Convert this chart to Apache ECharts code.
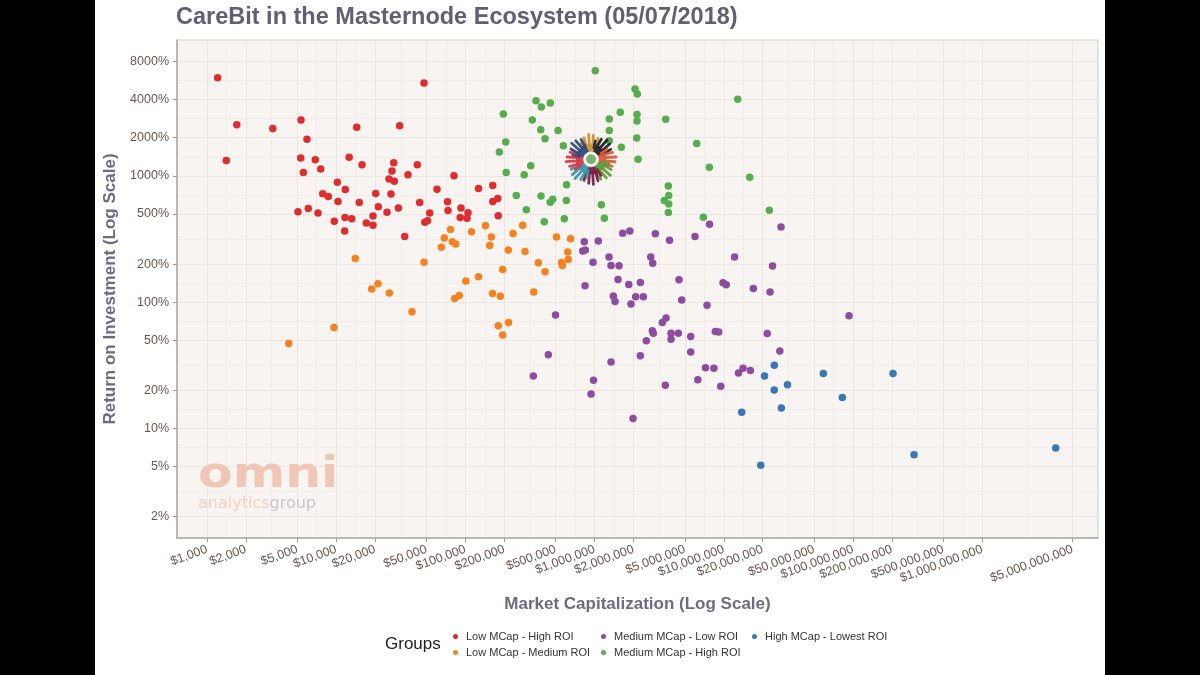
<!DOCTYPE html>
<html>
<head>
<meta charset="UTF-8">
<title>CareBit in the Masternode Ecosystem</title>
<script src="https://cdn.jsdelivr.net/npm/echarts@6/dist/echarts.min.js"></script>
<style>
    body { margin: 0; background: #000; }
    #chart { position: absolute; left: 95px; top: 0; width: 1010px; height: 675px; background: #fff; }
</style>
</head>
<body>
<div id="chart"></div>
<script>
    // [market cap in $, ROI in %]
    var lowMcapHighRoi = [
        [1210, 5980], [1700, 2540], [1410, 1320], [3230, 2370], [5340, 2770], [5940, 1950], [5310, 1380],
        [5570, 1060], [6890, 1340], [7590, 1130], [10200, 889], [11760, 777], [7860, 719], [8690, 684],
        [10330, 627], [5060, 518], [6080, 550], [7230, 508], [9670, 437], [11700, 467], [13180, 456],
        [11630, 366], [14410, 2420], [12600, 1400], [15840, 1220], [20220, 723], [15090, 613], [21180, 568],
        [19270, 481], [17100, 423], [19270, 406], [24730, 515], [26560, 716], [25630, 945], [28160, 906],
        [27040, 1090], [27860, 1270], [31000, 2490], [47820, 5430], [30250, 557], [35950, 1020], [42430, 1220],
        [44290, 613], [52930, 508], [48510, 428], [50910, 441], [60290, 783], [81610, 1000], [72700, 623],
        [73340, 530], [92480, 556], [91160, 468], [104700, 509], [102900, 462], [126300, 794], [162700, 839],
        [163000, 625], [178100, 661], [179400, 483], [33900, 330]
    ];
    var lowMcapMediumRoi = [
        [4290, 47.0], [9620, 62.9], [14050, 221], [18830, 127], [21060, 140], [25760, 118], [38610, 83.8],
        [47820, 207], [82630, 107], [89700, 113], [100700, 147], [126300, 159], [162100, 117], [186300, 111],
        [179700, 64.9], [215600, 68.9], [194400, 54.8], [76680, 375], [111500, 360], [143000, 403],
        [68660, 321], [79150, 300], [84140, 289], [65100, 272], [158700, 327], [154200, 280], [194400, 181],
        [214800, 259], [233500, 349], [277700, 405], [289200, 251], [366700, 205], [413200, 174],
        [337900, 120], [507200, 327], [651000, 317], [619300, 249], [554300, 206], [562300, 195], [625900, 217]
    ];
    var mediumMcapLowRoi = [
        [831000, 301], [1068000, 305], [1650000, 351], [1873000, 366], [2950000, 347], [3800000, 309],
        [5985000, 330], [7750000, 414], [27720000, 393], [809000, 254], [847500, 259], [971900, 207],
        [1293000, 227], [1340000, 195], [1545000, 194], [2718000, 227], [2816000, 203], [12100000, 227],
        [23830000, 193], [842900, 135], [1518000, 151], [1837000, 138], [2259000, 143], [4501000, 150],
        [1396000, 112], [1439000, 101], [2080000, 110], [2382000, 110], [1913000, 96.4], [4723000, 104],
        [7413000, 94.6], [9858000, 142], [10440000, 137], [16920000, 128], [22790000, 120], [3342000, 68.9],
        [3570000, 74.7], [2796000, 59.3], [2847000, 56.8], [3903000, 56.8], [3903000, 50.9], [4445000, 56.8],
        [5543000, 53.4], [2513000, 49.4], [8596000, 58.4], [9131000, 57.9], [21680000, 56.3], [5543000, 40.2],
        [2259000, 37.6], [1340000, 33.6], [27130000, 41.0], [7216000, 30.2], [8369000, 29.9], [12990000, 27.5],
        [14080000, 30.0], [16040000, 28.8], [980600, 24.1], [3526000, 22.0], [6292000, 24.3], [9463000, 21.6],
        [937800, 18.7], [1983000, 12.0], [498200, 78.9], [438300, 38.3], [335500, 26.0], [93130000, 77.9]
    ];
    var mediumMcapHighRoi = [
        [1012000, 6790], [2055000, 4870], [2140000, 4440], [352000, 3930], [386800, 3510], [454100, 3770],
        [196500, 3090], [329500, 2770], [382700, 2310], [521000, 2280], [413200, 1960], [205100, 1850],
        [183000, 1540], [572600, 1730], [320200, 1200], [206900, 1060], [285200, 1020], [1299000, 2820],
        [1580000, 3180], [1299000, 2280], [1299000, 1890], [1609000, 1680], [2129000, 3050], [2129000, 2720],
        [2118000, 1990], [2167000, 1350], [3551000, 2800], [6170000, 1800], [606200, 850], [384700, 693],
        [247700, 698], [453400, 618], [474000, 652], [603900, 636], [296100, 539], [407400, 432],
        [582900, 457], [1127000, 591], [1189000, 462], [3720000, 831], [3746000, 697], [3463000, 636],
        [3746000, 599], [3720000, 511], [12810000, 4030], [7722000, 1170], [15870000, 974], [22500000, 534],
        [6940000, 470]
    ];
    var highMcapLowestRoi = [
        [24600000, 31.7], [20660000, 26.0], [31120000, 22.2], [24550000, 20.1], [58920000, 27.2],
        [204000000, 27.2], [82640000, 17.6], [27870000, 14.5], [13760000, 13.4], [19310000, 5.10],
        [296700000, 6.19], [3706000000, 7.0]
    ];
    var careBit = [[938000, 1350]];

    var groupNames = ["Low MCap - High ROI", "Low MCap - Medium ROI", "Medium MCap - Low ROI",
        "Medium MCap - High ROI", "High MCap - Lowest ROI"];
    var groupColors = ["#de2d2f", "#f5821f", "#8d4c9f", "#55ad4f", "#3a78b5"];

    var xBreaks = [1e3, 2e3, 5e3, 1e4, 2e4, 5e4, 1e5, 2e5, 5e5, 1e6, 2e6, 5e6, 1e7, 2e7, 5e7, 1e8, 2e8, 5e8, 1e9, 5e9];
    var xMinor = [1414, 3162, 7071, 14142, 31623, 70711, 141421, 316228, 707107, 1414214, 3162278, 7071068,
        14142136, 31622777, 70710678, 141421356, 316227766, 707106781, 2236067977];
    var yBreaks = [2, 5, 10, 20, 50, 100, 200, 500, 1000, 2000, 4000, 8000];
    var yMinor = [3.162, 7.071, 14.14, 31.62, 70.71, 141.4, 316.2, 707.1, 1414, 2828, 5657];
    var xRange = [586, 7.87e9];
    var yRange = [1.357, 11880];

    var logoColors = ["#c9932f", "#23232b", "#dc5a3c", "#5d9c3c", "#7b1d47", "#3b9ba9", "#d73a4d", "#2f4c7c"];

    var font = "Liberation Sans, Arial, sans-serif";

    function renderLogo(params, api) {
        var c = api.coord([api.value(0), api.value(1)]);
        var kids = [];
        logoColors.forEach(function (col, i) {
            var a = -Math.PI / 2 + i * Math.PI / 4;
            var ca = Math.cos(a), sa = Math.sin(a);
            function p(r, t) {
                return [c[0] + r * ca - t * sa, c[1] + r * sa + t * ca];
            }
            kids.push({
                type: 'polygon',
                shape: {points: [p(7, -4), p(15, -6.5), p(15, 6.5), p(7, 4)]},
                style: {fill: col, opacity: 0.95}
            });
            var fingers = [[-4.8, 21.5], [-1.6, 25], [1.6, 24], [4.8, 21]];
            fingers.forEach(function (f) {
                var s = p(13, f[0]), e = p(f[1], f[0] * 1.45);
                kids.push({
                    type: 'line',
                    shape: {x1: s[0], y1: s[1], x2: e[0], y2: e[1]},
                    style: {stroke: col, lineWidth: 2.8, lineCap: 'round', opacity: 0.95}
                });
            });
            var t0 = p(10, -6), t1 = p(16, -10);
            kids.push({
                type: 'line',
                shape: {x1: t0[0], y1: t0[1], x2: t1[0], y2: t1[1]},
                style: {stroke: col, lineWidth: 2.6, lineCap: 'round', opacity: 0.95}
            });
        });
        kids.push({type: 'circle', shape: {cx: c[0], cy: c[1], r: 7.5}, style: {fill: '#ffffff', stroke: '#d8d8d8', lineWidth: 0.8}});
        kids.push({type: 'circle', shape: {cx: c[0], cy: c[1], r: 5}, style: {fill: '#79b46a'}});
        return {type: 'group', children: kids};
    }

    function legendAt(left, names) {
        return {
            left: left, top: 630, orient: 'vertical', padding: 0, itemGap: 3,
            itemWidth: 5, itemHeight: 5, icon: 'circle', data: names,
            textStyle: {fontSize: 11, color: '#333', lineHeight: 13, fontFamily: font, padding: [0, 0, 0, 3]}
        };
    }

    var groups = [lowMcapHighRoi, lowMcapMediumRoi, mediumMcapLowRoi, mediumMcapHighRoi, highMcapLowestRoi];
    var series = groups.map(function (d, i) {
        return {
            name: groupNames[i], type: 'scatter', xAxisIndex: 0, yAxisIndex: 0,
            data: d, symbolSize: 7.5, itemStyle: {color: groupColors[i], opacity: 1}
        };
    });
    series.push({
        name: 'CareBit', type: 'custom', xAxisIndex: 0, yAxisIndex: 0, z: 5,
        encode: {x: 0, y: 1}, data: careBit, renderItem: renderLogo
    });

    var chart = echarts.init(document.getElementById('chart'));
    chart.setOption({
        animation: false,
        title: [
            {
                text: 'CareBit in the Masternode Ecosystem (05/07/2018)', left: 81, top: 6, padding: 0,
                textStyle: {fontSize: 23.5, fontWeight: 'bold', color: '#5f6072', fontFamily: font}
            },
            {
                text: 'Groups', left: 290, top: 636, padding: 0,
                textStyle: {fontSize: 17, fontWeight: 'normal', color: '#222', fontFamily: font}
            }
        ],
        legend: [
            legendAt(358, [groupNames[0], groupNames[1]]),
            legendAt(506, [groupNames[2], groupNames[3]]),
            legendAt(657, [groupNames[4]])
        ],
        grid: {
            left: 82, right: 7, top: 40, bottom: 137, show: true, outerBoundsMode: 'none',
            backgroundColor: '#f8f4f1', borderColor: '#d2cdcc', borderWidth: 1
        },
        xAxis: [
            {
                type: 'log', min: xRange[0], max: xRange[1], position: 'bottom',
                name: 'Market Capitalization (Log Scale)', nameLocation: 'middle', nameGap: 58,
                nameTextStyle: {fontSize: 17, fontWeight: 'bold', color: '#6b6c80', fontFamily: font},
                axisLine: {show: true, lineStyle: {color: '#a9a9a9', width: 1.5}},
                axisTick: {show: true, length: 4, lineStyle: {color: '#9a9a9a'}, customValues: xBreaks},
                axisLabel: {
                    customValues: xBreaks, rotate: 20, margin: 11, color: '#6a5550', fontSize: 12.5, fontFamily: font,
                    formatter: function (v) { return '$' + Math.round(v).toLocaleString('en-US'); }
                },
                splitLine: {show: true, lineStyle: {color: '#ebe5e3', width: 1}}
            },
            {
                type: 'log', min: xRange[0], max: xRange[1], position: 'top',
                axisLine: {show: false}, axisLabel: {show: false},
                axisTick: {show: false, customValues: xMinor},
                splitLine: {show: true, lineStyle: {color: '#f1ecea', width: 1}}
            }
        ],
        yAxis: [
            {
                type: 'log', min: yRange[0], max: yRange[1], position: 'left',
                name: 'Return on Investment (Log Scale)', nameLocation: 'middle', nameGap: 56, nameRotate: 90,
                nameTextStyle: {fontSize: 17, fontWeight: 'bold', color: '#6b6c80', fontFamily: font},
                axisLine: {show: true, lineStyle: {color: '#a9a9a9', width: 1.5}},
                axisTick: {show: true, length: 4, lineStyle: {color: '#9a9a9a'}, customValues: yBreaks},
                axisLabel: {
                    customValues: yBreaks, margin: 8, color: '#6a5550', fontSize: 12.5, fontFamily: font,
                    formatter: function (v) { return Math.round(v) + '%'; }
                },
                splitLine: {show: true, lineStyle: {color: '#ebe5e3', width: 1}}
            },
            {
                type: 'log', min: yRange[0], max: yRange[1], position: 'right',
                axisLine: {show: false}, axisLabel: {show: false},
                axisTick: {show: false, customValues: yMinor},
                splitLine: {show: true, lineStyle: {color: '#f1ecea', width: 1}}
            }
        ],
        graphic: [
            {
                type: 'text', x: 103, y: 476, scaleX: 1.2, z: 1, silent: true,
                style: {
                    text: 'omni', x: 0, y: 0, fill: '#f0c7b4', fontSize: 42, fontWeight: 900,
                    fontFamily: 'DejaVu Sans', textAlign: 'left', textVerticalAlign: 'middle'
                }
            },
            {
                type: 'text', x: 103, y: 504, z: 1, silent: true,
                style: {
                    text: '{a|analytics}{g|group}', x: 0, y: 0, textAlign: 'left', textVerticalAlign: 'middle',
                    rich: {
                        a: {fontSize: 16, fill: '#f2d0c2', fontFamily: 'DejaVu Sans'},
                        g: {fontSize: 16, fill: '#cbc4ca', fontFamily: 'DejaVu Sans'}
                    }
                }
            }
        ],
        series: series
    });
</script>
</body>
</html>
